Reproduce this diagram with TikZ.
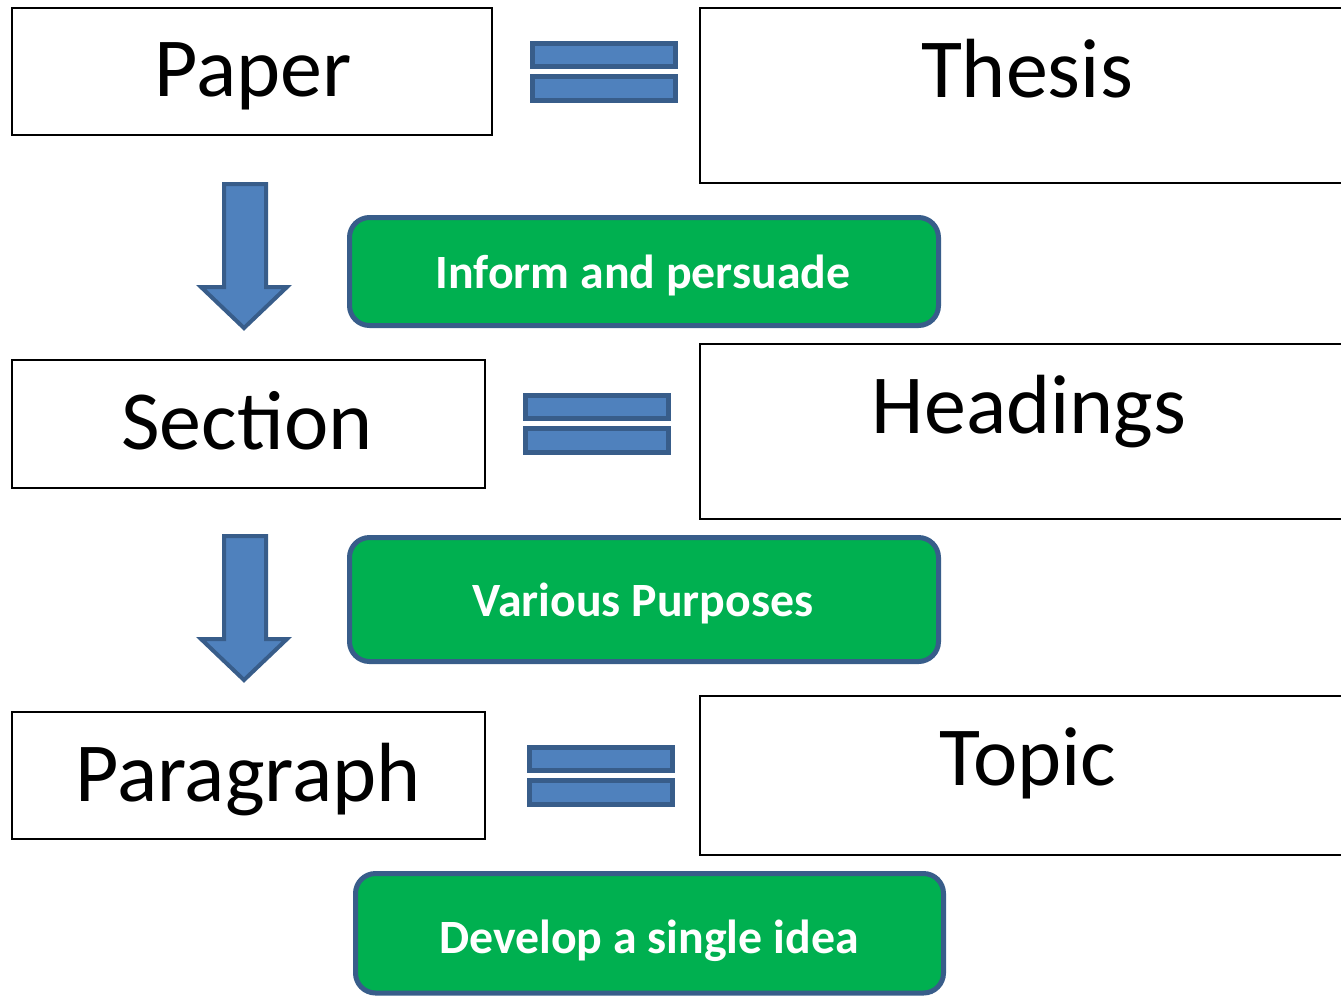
\documentclass[tikz,border=0pt]{standalone}
\usepackage{fontspec}
\setmainfont{Carlito}
\definecolor{eqfill}{HTML}{4F81BD}
\definecolor{eqline}{HTML}{385D8A}
\definecolor{gfill}{HTML}{00B050}
\begin{document}
\begin{tikzpicture}[x=1pt,y=-1pt,
  bbox/.style={draw=black,line width=2pt,fill=white,inner sep=0pt},
  gbox/.style={draw=eqline,line width=5pt,fill=gfill,rounded corners=20pt,inner sep=0pt},
  bigtxt/.style={anchor=base,inner sep=0pt,font=\fontsize{84}{100}\selectfont},
  gtxt/.style={anchor=base,inner sep=0pt,text=white,font=\fontsize{47.8}{56}\selectfont\bfseries},
  bar/.style={draw=eqline,line width=5pt,fill=eqfill},
  blockarrow/.style={draw=eqline,line width=4pt,fill=eqfill,line join=miter}]
\useasboundingbox (0,0) rectangle (1341,997);
\clip (0,0) rectangle (1341,997);
% left boxes
\node[bbox,minimum width=480pt,minimum height=127pt] (paperbox) at (252,71.5) {};
\node[bbox,minimum width=473pt,minimum height=128pt] (sectionbox) at (248.5,424) {};
\node[bbox,minimum width=473pt,minimum height=127pt] (parabox) at (248.5,775.5) {};
% right boxes
\node[bbox,minimum width=660pt,minimum height=175pt] (thesisbox) at (1030,95.5) {};
\node[bbox,minimum width=660pt,minimum height=175pt] (headbox) at (1030,431.5) {};
\node[bbox,minimum width=660pt,minimum height=159pt] (topicbox) at (1030,775.5) {};
% texts
\node[bigtxt] (paper) at (253,96) {Paper};
\node[bigtxt] (section) at (247,449) {Section};
\node[bigtxt] (paragraph) at (248,801) {Paragraph};
\node[bigtxt] (thesis) at (1027,97) {Thesis};
\node[bigtxt] (headings) at (1029,433) {Headings};
\node[bigtxt] (topic) at (1028,785) {Topic};
% green boxes
\node[gbox,minimum width=589pt,minimum height=108pt] (g1) at (644,271.5) {};
\node[gbox,minimum width=589pt,minimum height=124pt] (g2) at (644,599.5) {};
\node[gbox,minimum width=588pt,minimum height=119.5pt] (g3) at (649.5,933.25) {};
\node[gtxt] (g1t) at (643,288) {Inform and persuade};
\node[gtxt] (g2t) at (643,616) {Various Purposes};
\node[gtxt] (g3t) at (649,953) {Develop a single idea};
% equals signs
\foreach \dx/\dy [count=\i] in {0/0,-7/352,-3/704}{
  \begin{scope}[shift={(\dx,\dy)}]
  \draw[bar] (532.5,43.5) rectangle (675.5,66.5);
  \draw[bar] (532.5,76.5) rectangle (675.5,100.5);
  \end{scope}
}
% down arrows
\foreach \dy in {0,352}{
  \draw[blockarrow] (224,184+\dy) -- (266,184+\dy) -- (266,287+\dy) -- (287,287+\dy)
     -- (244,328+\dy) -- (201,287+\dy) -- (224,287+\dy) -- cycle;
}
\end{tikzpicture}
\end{document}
